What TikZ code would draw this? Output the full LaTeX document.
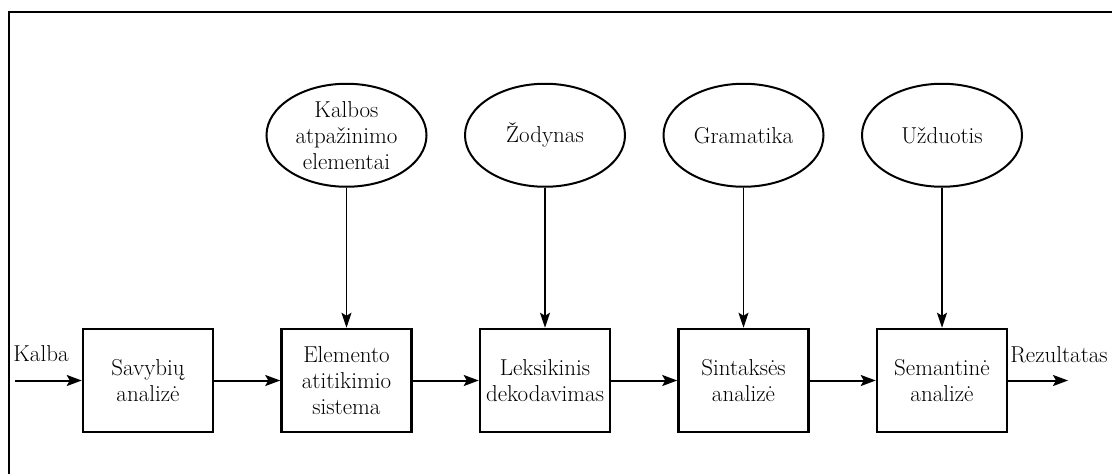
\documentclass[tikz,border=0pt]{standalone}
\usepackage{fontspec}
\usetikzlibrary{shapes.geometric, arrows.meta, positioning}

\begin{document}
\begin{tikzpicture}[x=1pt, y=-1pt,
        font=\fontsize{23}{26}\selectfont,
        block/.style={draw, line width=2.5pt, minimum width=130pt, minimum height=103pt, inner sep=0pt, align=center},
        source/.style={draw, ellipse, line width=2pt, minimum width=160pt, minimum height=103pt, inner sep=0pt, align=center},
        flow/.style={-{Stealth[length=15pt, width=11pt, inset=3pt]}, line width=2pt},
        feed/.style={-{Stealth[length=15pt, width=10pt, inset=3pt]}, line width=1.8pt}
    ]
    \useasboundingbox (0,0) rectangle (1112,474);
    \draw[line width=1.5pt] (1112,12) -- (9,12) -- (9,474);

    % processing chain
    \node (savybes) [block] at (148,380.5) {Savybių\\analizė};
    \node (atitikimas) [block, right=66pt of savybes] {Elemento\\atitikimio\\sistema};
    \node (leksika) [block, right=66pt of atitikimas] {Leksikinis\\dekodavimas};
    \node (sintakse) [block, right=66pt of leksika] {Sintaksės\\analizė};
    \node (semantika) [block, right=66pt of sintakse] {Semantinė\\analizė};

    % knowledge sources
    \node (elementai) [source, above=140pt of atitikimas] {Kalbos\\atpažinimo\\elementai};
    \node (zodynas) [source, above=140pt of leksika] {Žodynas};
    \node (gramatika) [source, above=140pt of sintakse] {Gramatika};
    \node (uzduotis) [source, above=140pt of semantika] {Užduotis};

    \coordinate (ivestis) at (15,380.5);
    \coordinate (isvestis) at (1068,380.5);
    \node (kalba) at (41,354) {Kalba};
    \node (rezultatas) at (1059,355) {Rezultatas};

    \draw[flow] (ivestis) -- (savybes);
    \draw[flow] (savybes) -- (atitikimas);
    \draw[flow] (atitikimas) -- (leksika);
    \draw[flow] (leksika) -- (sintakse);
    \draw[flow] (sintakse) -- (semantika);
    \draw[flow] (semantika) -- (isvestis);

    \draw[feed] (elementai) -- (atitikimas);
    \draw[feed] (zodynas) -- (leksika);
    \draw[feed] (gramatika) -- (sintakse);
    \draw[feed] (uzduotis) -- (semantika);
\end{tikzpicture}
\end{document}
